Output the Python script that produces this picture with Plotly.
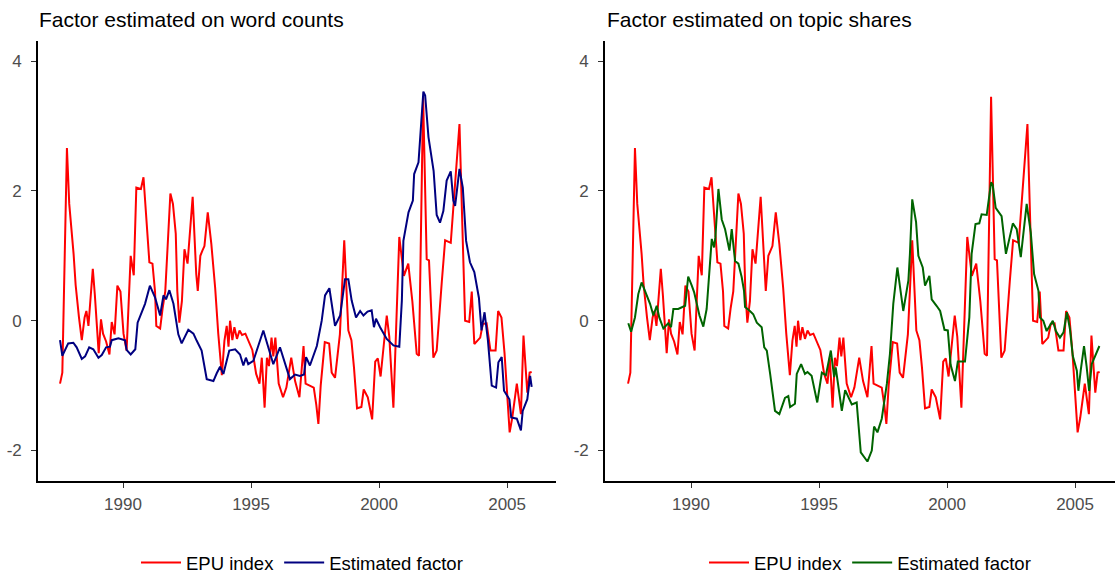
import plotly.graph_objects as go

# ---------------- data ----------------
epu_year = [1987.54, 1987.63, 1987.81, 1987.90, 1988.07, 1988.15, 1988.28, 1988.39, 1988.50, 1988.57,
            1988.65, 1988.82, 1988.90, 1989.05, 1989.14, 1989.22, 1989.34, 1989.47, 1989.56, 1989.67,
            1989.78, 1989.90, 1990.02, 1990.14, 1990.30, 1990.42, 1990.52, 1990.70, 1990.80, 1991.03,
            1991.15, 1991.25, 1991.30, 1991.45, 1991.55, 1991.65, 1991.85, 1991.95, 1992.06, 1992.12,
            1992.20, 1992.30, 1992.40, 1992.52, 1992.72, 1992.86, 1992.92, 1993.02, 1993.10, 1993.18,
            1993.31, 1993.45, 1993.60, 1993.72, 1993.86, 1993.96, 1994.05, 1994.12, 1994.18, 1994.27,
            1994.35, 1994.45, 1994.55, 1994.65, 1994.78, 1994.90, 1995.05, 1995.20, 1995.33, 1995.42,
            1995.53, 1995.62, 1995.70, 1995.80, 1995.87, 1995.95, 1996.08, 1996.25, 1996.38, 1996.57,
            1996.72, 1996.89, 1997.05, 1997.13, 1997.30, 1997.45, 1997.55, 1997.63, 1997.72, 1997.88,
            1998.05, 1998.15, 1998.28, 1998.47, 1998.64, 1998.80, 1998.92, 1999.02, 1999.14, 1999.31,
            1999.40, 1999.56, 1999.73, 1999.85, 1999.95, 2000.06, 2000.30, 2000.40, 2000.56, 2000.79,
            2000.97, 2001.14, 2001.30, 2001.47, 2001.56, 2001.72, 2001.86, 2001.95, 2002.12, 2002.25,
            2002.45, 2002.58, 2002.80, 2003.14, 2003.27, 2003.36, 2003.52, 2003.62, 2003.72, 2003.95,
            2004.05, 2004.20, 2004.35, 2004.55, 2004.65, 2004.78, 2004.90, 2004.97, 2005.10, 2005.20,
            2005.38, 2005.54, 2005.64, 2005.79, 2005.88, 2005.96]
epu_value = [-0.97, -0.80, 2.66, 1.80, 1.03, 0.55, 0.05, -0.30, 0.05, 0.15,
             -0.08, 0.80, 0.40, -0.50, 0.02, -0.20, -0.32, -0.52, -0.02, -0.21,
             0.54, 0.45, -0.20, -0.46, 1.00, 0.70, 2.05, 2.03, 2.21, 0.90,
             0.88, 0.45, -0.08, -0.12, 0.20, 0.45, 1.96, 1.80, 1.34, 0.46,
             -0.03, 0.30, 1.10, 0.88, 1.91, 0.72, 0.46, 1.00, 1.08, 1.15,
             1.67, 1.18, 0.50, -0.20, -0.84, -0.31, -0.08, -0.40, 0.00, -0.30,
             -0.10, -0.28, -0.15, -0.22, -0.20, -0.30, -0.45, -0.82, -0.97, -0.57,
             -1.34, -0.57, -0.70, -0.26, -0.55, -0.26, -0.97, -1.18, -1.03, -0.57,
             -0.93, -1.18, -0.39, -0.97, -1.00, -1.03, -1.30, -1.59, -1.00, -0.33,
             -0.35, -0.80, -0.88, -0.21, 1.24, -0.15, -0.30, -0.72, -1.35, -1.33,
             -1.06, -1.18, -1.52, -0.63, -0.58, -0.86, 0.08, -0.25, -1.34, 1.29,
             0.69, 0.88, 0.30, -0.51, -0.54, 3.45, 0.95, 0.93, -0.57, -0.46,
             0.60, 1.24, 1.20, 3.03, 1.22, 0.00, -0.02, 0.45, -0.36, -0.26,
             -0.05, -0.04, -0.46, -0.46, 0.15, 0.05, -0.50, -0.97, -1.72, -1.50,
             -0.97, -1.44, -0.23, -1.11, -0.80, -0.79]

word_year = [1987.54, 1987.63, 1987.86, 1988.06, 1988.19, 1988.39, 1988.52, 1988.68, 1988.84, 1989.04,
             1989.17, 1989.34, 1989.49, 1989.56, 1989.82, 1990.08, 1990.14, 1990.30, 1990.48, 1990.57,
             1990.86, 1991.05, 1991.25, 1991.45, 1991.58, 1991.68, 1991.81, 1991.97, 1992.16, 1992.29,
             1992.55, 1992.75, 1992.88, 1993.07, 1993.27, 1993.53, 1993.66, 1993.79, 1993.92, 1994.15,
             1994.38, 1994.57, 1994.70, 1994.80, 1994.89, 1995.09, 1995.48, 1995.87, 1996.13, 1996.52,
             1996.72, 1996.91, 1997.07, 1997.15, 1997.30, 1997.57, 1997.76, 1997.89, 1998.06, 1998.28,
             1998.48, 1998.67, 1998.80, 1998.93, 1999.10, 1999.26, 1999.39, 1999.55, 1999.71, 1999.80,
             1999.88, 2000.04, 2000.30, 2000.56, 2000.79, 2000.89, 2000.95, 2001.15, 2001.32, 2001.37,
             2001.54, 2001.73, 2001.80, 2001.93, 2002.13, 2002.25, 2002.38, 2002.51, 2002.64, 2002.80,
             2002.90, 2002.97, 2003.14, 2003.27, 2003.40, 2003.55, 2003.72, 2003.90, 2004.00, 2004.12,
             2004.25, 2004.40, 2004.57, 2004.66, 2004.79, 2004.88, 2005.09, 2005.16, 2005.38, 2005.54,
             2005.61, 2005.79, 2005.90, 2005.96]
word_value = [-0.30, -0.54, -0.35, -0.34, -0.41, -0.59, -0.55, -0.41, -0.44, -0.57,
              -0.53, -0.41, -0.40, -0.30, -0.27, -0.30, -0.45, -0.52, -0.44, -0.03,
              0.26, 0.54, 0.36, 0.08, 0.39, 0.33, 0.47, 0.26, -0.21, -0.35,
              -0.14, -0.20, -0.31, -0.46, -0.90, -0.93, -0.81, -0.71, -0.82, -0.46,
              -0.44, -0.52, -0.69, -0.57, -0.67, -0.62, -0.15, -0.67, -0.41, -0.90,
              -0.83, -0.85, -0.83, -0.56, -0.69, -0.39, 0.00, 0.39, 0.50, -0.08,
              0.08, 0.64, 0.64, 0.31, 0.05, 0.15, 0.08, 0.14, 0.16, -0.10,
              0.03, -0.10, -0.28, -0.38, -0.40, 0.31, 1.23, 1.67, 1.85, 2.26,
              2.44, 3.53, 3.47, 2.83, 2.31, 1.63, 1.51, 1.69, 2.16, 2.30,
              1.85, 1.77, 2.34, 2.05, 1.23, 0.90, 0.75, 0.35, -0.15, 0.13,
              -0.30, -1.00, -1.03, -0.64, -0.56, -1.08, -1.21, -1.49, -1.51, -1.69,
              -1.39, -1.21, -0.85, -1.02]

topic_year = [1987.55, 1987.66, 1987.81, 1987.94, 1988.07, 1988.24, 1988.40, 1988.53, 1988.66, 1988.76,
              1988.92, 1989.11, 1989.22, 1989.31, 1989.50, 1989.77, 1989.89, 1990.03, 1990.12, 1990.33,
              1990.48, 1990.61, 1990.77, 1990.81, 1990.90, 1990.95, 1991.07, 1991.20, 1991.33, 1991.50,
              1991.59, 1991.72, 1991.85, 1991.98, 1992.07, 1992.11, 1992.30, 1992.43, 1992.57, 1992.76,
              1992.86, 1992.96, 1993.09, 1993.28, 1993.45, 1993.67, 1993.80, 1993.87, 1994.06, 1994.13,
              1994.30, 1994.45, 1994.55, 1994.71, 1994.93, 1995.11, 1995.27, 1995.46, 1995.59, 1995.65,
              1995.89, 1996.02, 1996.28, 1996.47, 1996.63, 1996.89, 1997.06, 1997.15, 1997.28, 1997.45,
              1997.65, 1997.77, 1997.90, 1998.06, 1998.29, 1998.49, 1998.55, 1998.64, 1998.79, 1998.88,
              1999.05, 1999.14, 1999.31, 1999.40, 1999.59, 1999.73, 1999.90, 2000.03, 2000.14, 2000.31,
              2000.42, 2000.70, 2000.87, 2000.96, 2001.11, 2001.26, 2001.35, 2001.55, 2001.72, 2001.78,
              2001.90, 2002.13, 2002.30, 2002.57, 2002.72, 2002.88, 2003.11, 2003.27, 2003.40, 2003.57,
              2003.63, 2003.76, 2003.89, 2004.13, 2004.25, 2004.41, 2004.55, 2004.68, 2004.80, 2004.91,
              2005.07, 2005.13, 2005.22, 2005.35, 2005.45, 2005.55, 2005.65, 2005.78, 2005.95]
topic_value = [-0.04, -0.17, 0.05, 0.41, 0.59, 0.41, 0.26, 0.08, 0.23, 0.05,
               -0.12, -0.04, -0.10, 0.18, 0.18, 0.23, 0.68, 0.54, 0.44, 0.08,
               -0.09, 0.18, 0.98, 1.26, 1.13, 1.28, 2.03, 1.56, 1.41, 1.08,
               1.41, 0.92, 0.88, 0.67, 0.46, 0.21, 0.15, 0.10, -0.03, -0.10,
               -0.41, -0.46, -0.82, -1.39, -1.44, -1.19, -1.16, -1.33, -1.28, -0.82,
               -0.67, -0.82, -0.79, -0.85, -1.26, -0.80, -0.84, -0.46, -0.87, -0.72,
               -1.39, -1.07, -1.29, -1.26, -2.03, -2.17, -2.00, -1.63, -1.72, -1.51,
               -0.97, -0.51, 0.26, 0.82, 0.15, 0.62, 1.03, 1.87, 1.52, 1.00,
               0.82, 0.54, 0.69, 0.33, 0.23, 0.15, -0.14, -0.15, -0.68, -0.93,
               -0.63, -0.63, 0.05, 1.03, 1.49, 1.50, 1.64, 1.63, 2.13, 2.10,
               1.74, 1.61, 1.03, 1.50, 1.41, 0.98, 1.80, 1.36, 0.72, 0.46,
               0.05, 0.00, -0.16, 0.00, -0.16, -0.26, -0.18, 0.13, -0.13, -0.54,
               -0.77, -1.08, -0.77, -0.39, -0.70, -1.08, -0.67, -0.56, -0.39]

x_ticks = [1990, 1995, 2000, 2005]
x_tick_labels = ["1990", "1995", "2000", "2005"]
y_ticks = [-2, 0, 2, 4]
y_tick_labels = ["-2", "0", "2", "4"]
series_names = ["EPU index", "Estimated factor"]
panel_titles = ["Factor estimated on word counts", "Factor estimated on topic shares"]

# ---------------- styling ----------------
W, H = 1115, 576
FONT = "Liberation Sans, Arial, Helvetica, sans-serif"
RED = "#FF0000"
NAVY = "#000080"
GREEN = "#006400"


def px_x(p):
    return p / W


def px_y(p):
    return 1 - p / H


fig = go.Figure()

fig.add_trace(go.Scatter(x=epu_year, y=epu_value, mode="lines", name=series_names[0],
                         line=dict(color=RED, width=2), xaxis="x", yaxis="y", legend="legend"))
fig.add_trace(go.Scatter(x=word_year, y=word_value, mode="lines", name=series_names[1],
                         line=dict(color=NAVY, width=2), xaxis="x", yaxis="y", legend="legend"))
fig.add_trace(go.Scatter(x=epu_year, y=epu_value, mode="lines", name=series_names[0],
                         line=dict(color=RED, width=2), xaxis="x2", yaxis="y2", legend="legend2"))
fig.add_trace(go.Scatter(x=topic_year, y=topic_value, mode="lines", name=series_names[1],
                         line=dict(color=GREEN, width=2), xaxis="x2", yaxis="y2", legend="legend2"))

y_dom = [px_y(481), px_y(41)]
common_x = dict(tickmode="array", tickvals=x_ticks, ticktext=x_tick_labels,
                ticks="outside", ticklen=5, tickwidth=1.3, tickcolor="#333333",
                showline=True, linecolor="black", linewidth=1.6, showgrid=False, zeroline=False,
                tickfont=dict(family=FONT, size=17, color="#4D4D4D"), ticklabelstandoff=2,
                automargin=False, fixedrange=True)
common_y = dict(tickmode="array", tickvals=y_ticks, ticktext=y_tick_labels,
                ticks="outside", ticklen=5, tickwidth=1.3, tickcolor="#333333",
                showline=True, linecolor="black", linewidth=1.6, showgrid=False, zeroline=False,
                tickfont=dict(family=FONT, size=17, color="#4D4D4D"), ticklabelstandoff=6,
                automargin=False, domain=y_dom, range=[-2.47, 4.31], fixedrange=True)

legend_common = dict(orientation="h", xanchor="center", yref="container", xref="paper",
                     y=px_y(563), yanchor="middle",
                     itemwidth=40, font=dict(family=FONT, size=18.5, color="black"),
                     bgcolor="rgba(0,0,0,0)")

fig.update_layout(
    width=W, height=H,
    margin=dict(l=0, r=0, t=0, b=0, autoexpand=False),
    paper_bgcolor="white", plot_bgcolor="white",
    font=dict(family=FONT, color="black"),
    xaxis=dict(domain=[px_x(38), px_x(556)], range=[1986.68, 2006.91], anchor="y", **common_x),
    yaxis=dict(anchor="x", **common_y),
    xaxis2=dict(domain=[px_x(605), 1.0], range=[1986.64, 2006.56], anchor="y2", **common_x),
    yaxis2=dict(anchor="x2", **common_y),
    legend=dict(x=px_x(302), **legend_common),
    legend2=dict(x=px_x(870), **legend_common),
    showlegend=True,
    annotations=[
        dict(text=panel_titles[0], x=px_x(37), y=px_y(19), xref="paper", yref="paper",
             xanchor="left", yanchor="middle", showarrow=False,
             font=dict(family=FONT, size=21, color="black")),
        dict(text=panel_titles[1], x=px_x(605), y=px_y(19), xref="paper", yref="paper",
             xanchor="left", yanchor="middle", showarrow=False,
             font=dict(family=FONT, size=21, color="black")),
    ],
)

fig.write_html("out.html")
